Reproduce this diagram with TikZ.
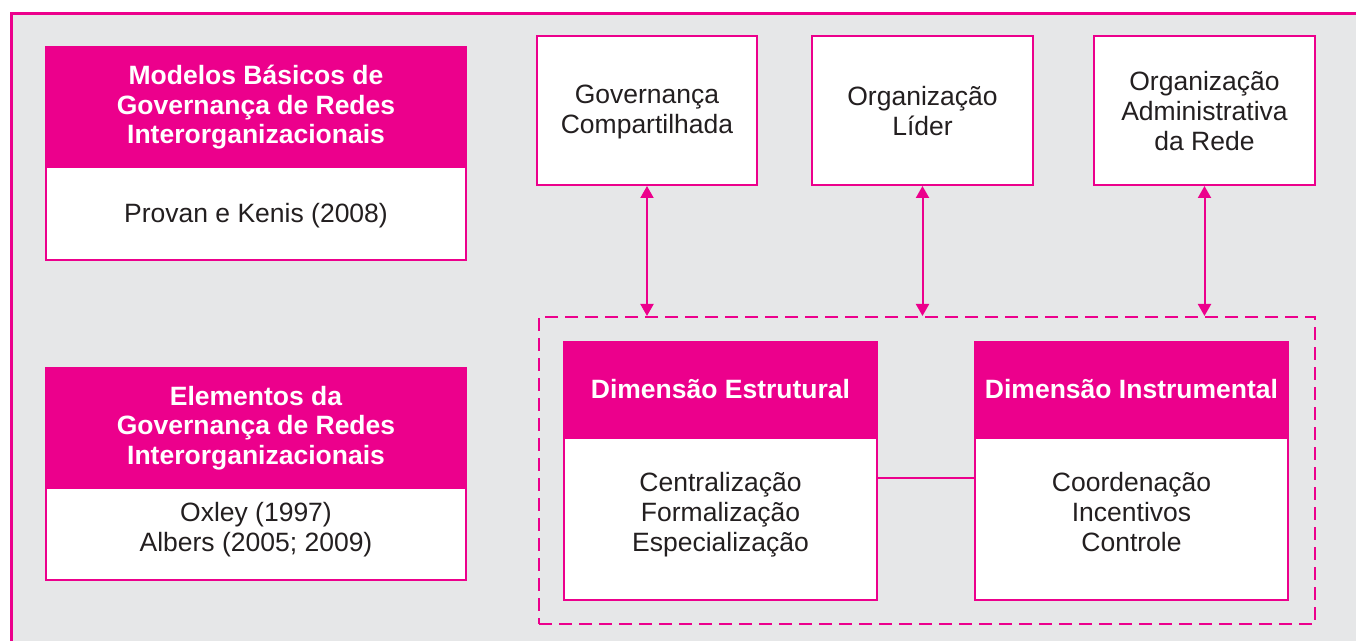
\documentclass[tikz,border=0pt]{standalone}
\usepackage{fontspec}
\setmainfont{Liberation Sans}
\usetikzlibrary{calc,positioning,arrows.meta}

\definecolor{rosa}{RGB}{236,0,140}
\definecolor{fundo}{RGB}{230,231,232}
\definecolor{texto}{RGB}{35,31,32}

\tikzset{
  cabec/.style={draw=rosa,fill=rosa,line width=1pt,text=white,align=center,
    font=\fontsize{13.25}{14.9}\selectfont\bfseries,minimum width=#1,inner sep=0pt},
  cabec/.default=210pt,
  corpo/.style={draw=rosa,fill=white,line width=1pt,text=texto,align=center,
    font=\fontsize{13.25}{14.9}\selectfont,minimum width=#1,inner sep=0pt},
  corpo/.default=210pt,
  altura/.style={text height=#1,text depth=0pt},
  seta/.style={rosa,line width=1pt,{Triangle[length=6pt,width=6.5pt]}-{Triangle[length=6pt,width=6.5pt]}},
  liga/.style={rosa,line width=1pt}
}

\begin{document}
\begin{tikzpicture}[x=0.5pt,y=-0.5pt]
\useasboundingbox (0,0) rectangle (1356,641);
\clip (0,0) rectangle (1356,641);
\filldraw [draw=rosa,fill=fundo,line width=1.3pt] (11.5,13.5) rectangle (1420,700);

% modelos e elementos
\node[cabec,altura=38pt,minimum height=59pt] (mb) at (256,106) {Modelos Básicos de\\Governança de Redes\\Interorganizacionais};
\node[corpo,altura=9pt,minimum height=46.5pt,below=0pt of mb] (mbc) {Provan e Kenis (2008)};
\node[cabec,altura=37.7pt,minimum height=59pt] (el) at (256,427) {Elementos da\\Governança de Redes\\Interorganizacionais};
\node[corpo,altura=17.6pt,minimum height=46pt,below=0pt of el] (elc) {Oxley (1997)\\Albers (2005; 2009)};

% tres modelos
\node[corpo=110pt,altura=23.2pt,minimum height=74.5pt] (gc) at (647,110.5) {Governança\\Compartilhada};
\node[corpo=110.5pt,altura=25pt,minimum height=74.5pt] (ol) at (922.5,110.5) {Organização\\Líder};
\node[corpo=110.5pt,altura=40pt,minimum height=74.5pt] (oa) at (1204.5,110.5) {Organização\\Administrativa\\da Rede};

% dimensoes
\node[draw=rosa,line width=1pt,dash pattern=on 6.5pt off 3.5pt,minimum width=388pt,minimum height=153.5pt] (quadro) at (927,470.5) {};
\node[cabec=156.5pt,altura=9.6pt,minimum height=47pt] (de) at (720.5,389) {Dimensão Estrutural};
\node[corpo=156.5pt,altura=32.3pt,minimum height=81pt,below=0pt of de] (dec) {Centralização\\Formalização\\Especialização};
\node[cabec=156.5pt,altura=9.6pt,minimum height=47pt] (di) at (1131.5,389) {Dimensão Instrumental};
\node[corpo=156.5pt,altura=32.3pt,minimum height=81pt,below=0pt of di] (dic) {Coordenação\\Incentivos\\Controle};

\draw [liga] ($(dec.north east)!0.25!(dec.south east)$) -- ($(dic.north west)!0.25!(dic.south west)$);
\draw [seta] (gc.south) -- (gc.south |- quadro.north);
\draw [seta] (ol.south) -- (ol.south |- quadro.north);
\draw [seta] (oa.south) -- (oa.south |- quadro.north);
\end{tikzpicture}
\end{document}
